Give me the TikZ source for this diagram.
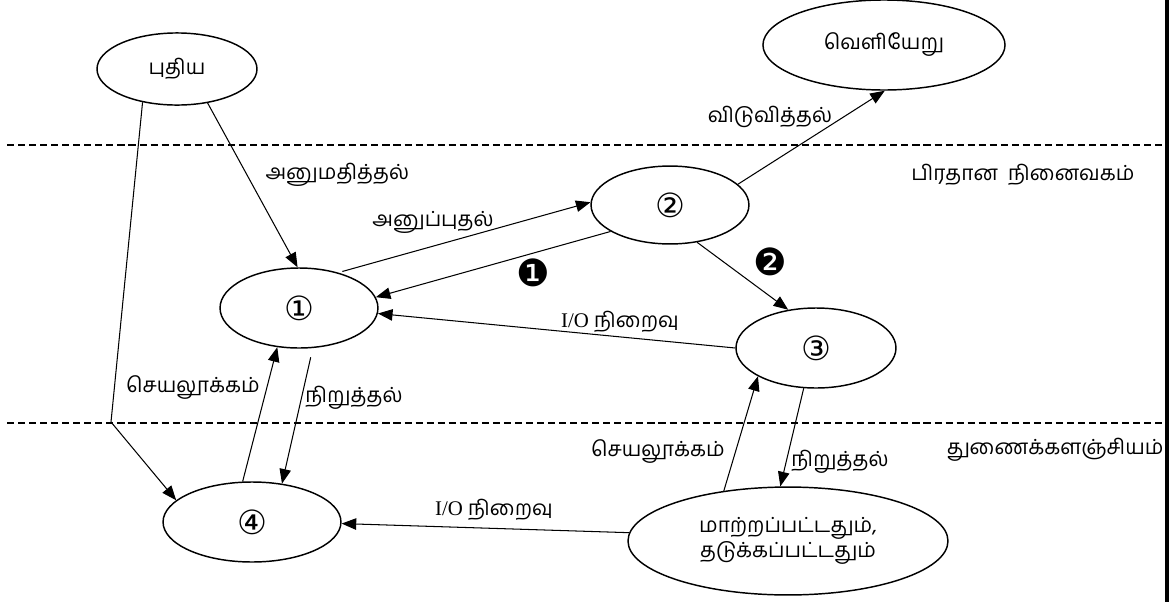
\documentclass[tikz,border=0pt]{standalone}
\usepackage{fontspec}
\setmainfont{Liberation Serif}
\newfontfamily\tamil[Script=Tamil]{Hind Madurai}
\newfontfamily\symb{DejaVu Sans}
\usetikzlibrary{arrows.meta}
\usetikzlibrary{shapes.geometric}

\begin{document}
\begin{tikzpicture}[x=0.48pt, y=-0.48pt,
    state/.style={ellipse, draw, line width=0.7pt, inner sep=0pt, align=center, font=\tamil},
    num/.style={font=\symb\fontsize{16}{16}\selectfont},
    link/.style={-{Triangle[length=7pt,width=5.5pt]}, line width=0.5pt},
    lbl/.style={font=\tamil, inner sep=1pt},
    badge/.style={font=\symb\fontsize{18}{18}\selectfont, inner sep=0pt}]

\useasboundingbox (0,0) rectangle (1171,602);

% memory borders
\foreach \y in {145,423} {
    \draw[line width=1.1pt, dash pattern=on 3.4pt off 1.9pt] (7,\y) -- (1167,\y);
}
\draw[line width=1.5pt] (1167,0) -- (1167,602);

% states
\node[state, minimum width=76.8pt, minimum height=34.6pt] (new) at (177,69) {புதிய};
\node[state, minimum width=116.2pt, minimum height=43.2pt] (exit) at (884,45) {வெளியேறு};
\node[state, num, minimum width=75.8pt, minimum height=38.4pt] (ready) at (299,308) {①};
\node[state, num, minimum width=75.8pt, minimum height=37.4pt] (run) at (670,205) {②};
\node[state, num, minimum width=76.8pt, minimum height=38.4pt] (wait) at (816,348) {③};
\node[state, num, minimum width=85.4pt, minimum height=38.4pt] (sready) at (252,522) {④};
\node[state, minimum width=153.6pt, minimum height=51.8pt] (swait) at (788,541) {மாற்றப்பட்டதும்,\\தடுக்கப்பட்டதும்};

\coordinate (bend) at (111,422);

% transitions
\draw[link] (new.-48) -- (ready.92);
\draw[link] (new.-136) -- (bend) -- (sready.164);
\draw[link, shorten <=2pt] (ready.42) -- (run.178);
\draw[link] (run.-156) -- (ready.8);
\draw[link] (run.-54) -- (wait.126);
\draw[link] (wait.180) -- (ready.-4);
\draw[link] (run.17) -- (exit.-89);
\draw[link] (sready.103) -- (ready.-119);
\draw[link, shorten <=4.5pt] (ready.-71) -- (sready.52);
\draw[link] (swait.177) -- (sready.-1);
\draw[link] (swait.142) -- (wait.-154);
\draw[link] (wait.-107) -- (swait.98);

% labels
\node[lbl, anchor=west] (admit) at (263,175) {அனுமதித்தல்};
\node[lbl] (dispatch) at (433,222) {அனுப்புதல்};
\node[lbl] (release) at (770,117) {விடுவித்தல்};
\node[lbl] (mainmem) at (1023,175) {பிரதான\ \ நினைவகம்};
\node[lbl] (secmem) at (1055,450) {துணைக்களஞ்சியம்};
\node[badge] (one) at (533,273) {❶};
\node[badge] (two) at (770,262) {❷};
\node[inner sep=1pt] (iodone) at (620,322) {I/O {\tamil நிறைவு}};
\node[inner sep=1pt] (iodonesec) at (494,510) {I/O {\tamil நிறைவு}};
\node[lbl] (actleft) at (193,388) {செயலூக்கம்};
\node[lbl] (stopleft) at (354,398) {நிறுத்தல்};
\node[lbl] (actright) at (658,452) {செயலூக்கம்};
\node[lbl] (stopright) at (840,462) {நிறுத்தல்};
\end{tikzpicture}
\end{document}
